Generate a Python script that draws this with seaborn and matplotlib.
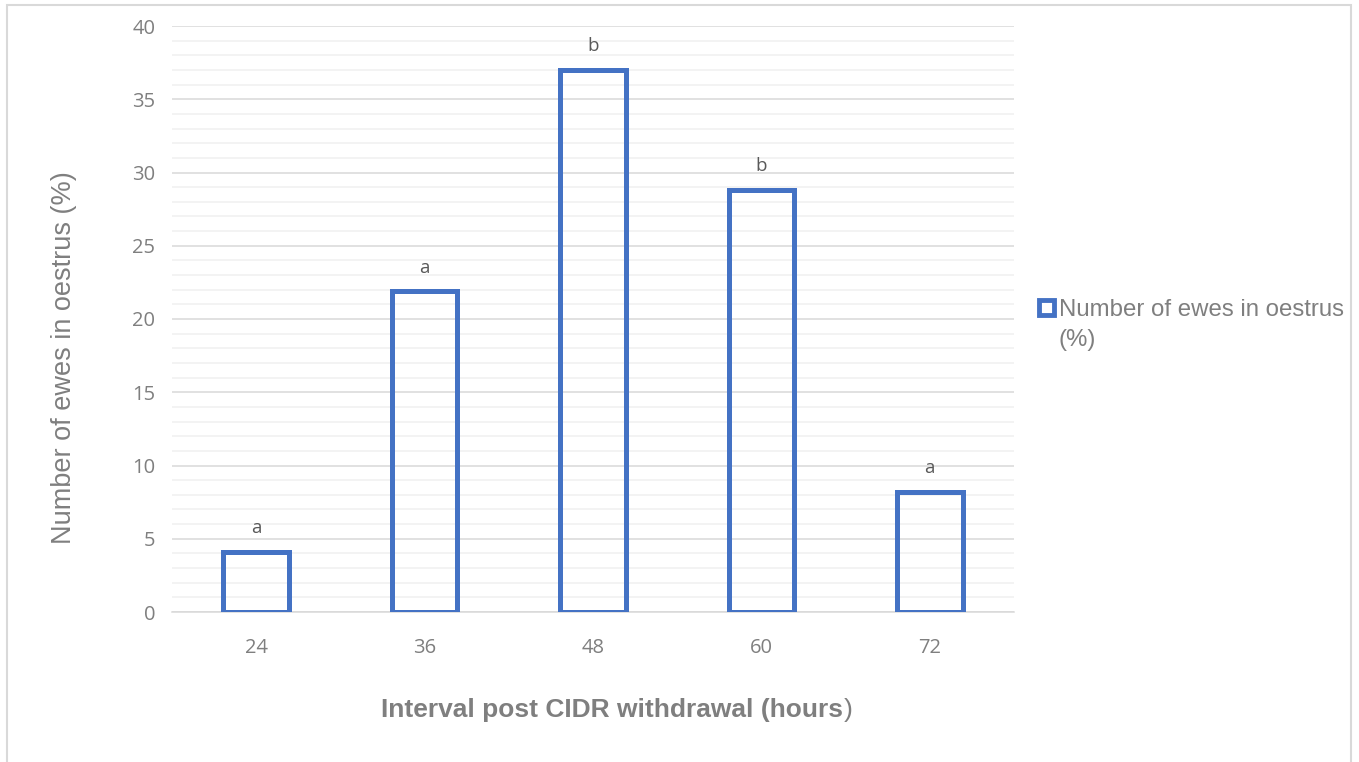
import matplotlib
matplotlib.use("Agg")
import matplotlib.pyplot as plt
import numpy as np
import seaborn as sns
from matplotlib.legend_handler import HandlerPatch
from matplotlib.patches import Rectangle
from matplotlib.ticker import MultipleLocator

# data
hours = ["24", "36", "48", "60", "72"]
oestrus_pct = [4.1, 21.9, 37.0, 28.8, 8.2]
letters = ["a", "a", "b", "b", "a"]

BLUE = "#4472C4"
GREY_TXT = "#7f7f7f"

sns.set_theme(style="white")
plt.rcParams["font.family"] = ["Liberation Sans", "DejaVu Sans"]

fig = plt.figure(figsize=(13.59, 7.62), dpi=100)
ax = fig.add_axes([172 / 1359, 1 - 612 / 762, (1014 - 172) / 1359, (612 - 26) / 762])

sns.barplot(x=hours, y=oestrus_pct, order=hours, fill=False, color=BLUE,
            width=0.39, linewidth=3.6, ax=ax)
for p in ax.patches:
    p.set_edgecolor(BLUE)
    p.set_zorder(3)

for i, (v, lab) in enumerate(zip(oestrus_pct, letters)):
    ax.text(i, v + 1.0, lab, ha="center", va="bottom", fontsize=13.5,
            color="#595959", family=["Open Sans", "DejaVu Sans"])

ax.set_ylim(0, 40)
ax.set_xlim(-0.5, 4.5)
ax.yaxis.set_major_locator(MultipleLocator(5))
ax.yaxis.set_minor_locator(MultipleLocator(1))
ax.grid(True, which="major", axis="y", color="#d9d9d9", linewidth=1.1, zorder=0)
ax.grid(True, which="minor", axis="y", color="#f0f0f0", linewidth=1.1, zorder=0)
ax.set_axisbelow(True)
for side in ("top", "right", "left"):
    ax.spines[side].set_visible(False)
ax.spines["bottom"].set_color("#d9d9d9")
ax.spines["bottom"].set_linewidth(1.1)
ax.tick_params(axis="both", which="both", length=0, colors=GREY_TXT, labelsize=14.5)
ax.tick_params(axis="x", pad=19)
ax.tick_params(axis="y", pad=12)
for t in ax.get_xticklabels() + ax.get_yticklabels():
    t.set_family(["Open Sans", "DejaVu Sans"])

ax.set_ylabel("Number of ewes in oestrus (%)", fontsize=19.5, color=GREY_TXT)
ax.yaxis.set_label_coords((77 - 172) / 842, (612 - 358) / 586)
ax.set_xlabel("")
fig.text(843 / 1359, 1 - 710 / 762, "Interval post CIDR withdrawal (hours", ha="right",
         va="center", fontsize=19, fontweight="bold", color=GREY_TXT)
fig.text(844 / 1359, 1 - 710 / 762, ")", ha="left", va="center",
         fontsize=19, color=GREY_TXT)


def top_line_box(legend, orig_handle, xdescent, ydescent, width, height, fontsize):
    # keep the marker level with the first line of the wrapped label
    side = min(width, height)
    y0 = -ydescent + (height - side) / 2 + 0.72 * fontsize
    return Rectangle((-xdescent, y0), side, side)


handle = Rectangle((0, 0), 1, 1, facecolor="white", edgecolor=BLUE, linewidth=3.5)
leg = fig.legend([handle], ["Number of ewes in oestrus\n(%)"], loc="upper left",
                 bbox_to_anchor=(1039 / 1359, 1 - 299 / 762), frameon=False,
                 fontsize=17.3, handlelength=0.62, handleheight=0.62, handletextpad=0.2,
                 labelcolor=GREY_TXT, borderpad=0, borderaxespad=0,
                 handler_map={Rectangle: HandlerPatch(patch_func=top_line_box)})
leg.get_texts()[0].set_linespacing(1.45)

# light chart-area border
fig.patches.append(Rectangle((7 / 1359, -0.01), (1351 - 7) / 1359, 1.01 - 5 / 762,
                             transform=fig.transFigure, fill=False,
                             edgecolor="#d9d9d9", linewidth=1.5))

fig.savefig("out.png", dpi=100)
